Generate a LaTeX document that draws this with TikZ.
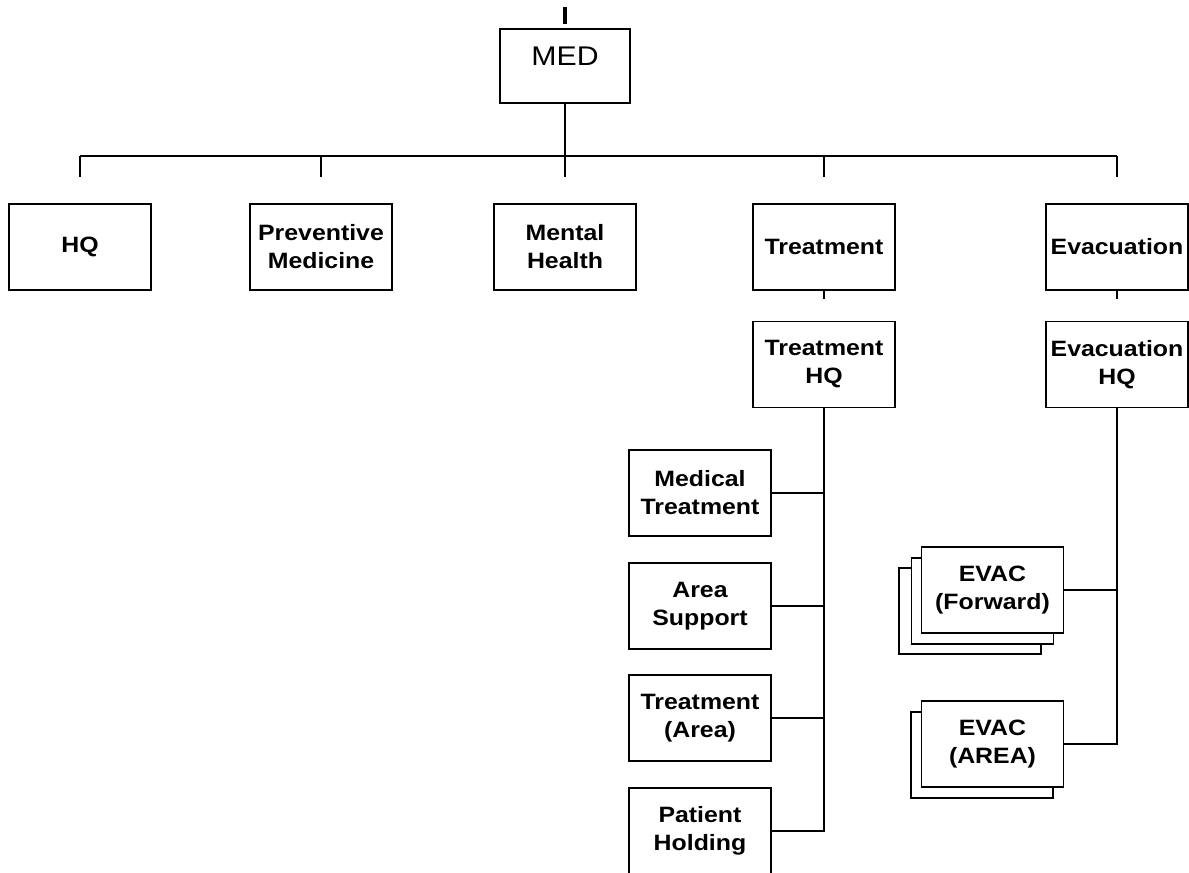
\documentclass[tikz,border=0pt]{standalone}
\usepackage{fontspec}
\setmainfont{Liberation Sans}[FakeStretch=1.12]
\usetikzlibrary{calc}
\tikzset{
  x=1pt, y=-1pt,
  unit/.style={draw, line width=1.6pt, fill=white, minimum width=142pt,
    minimum height=86pt, inner sep=0pt, align=center,
    font=\bfseries\fontsize{22.2}{28}\selectfont},
  layer/.style={draw, line width=1.6pt, fill=white, minimum width=142pt,
    minimum height=86pt, inner sep=0pt},
  link/.style={line width=1.5pt},
}
\begin{document}
\begin{tikzpicture}
\useasboundingbox (0,0) rectangle (1189,873);
\clip (0,0) rectangle (1189,873);

% top-level command box
\node[draw, line width=1.6pt, minimum width=130pt, inner xsep=0pt, inner ysep=0pt,
      text height=36pt, text depth=38pt, anchor=base,
      font=\fontsize{27}{32}\selectfont] (med) at (565,65) {MED};
\coordinate (feed) at (565,7);
\draw[line width=3.5pt, shorten >=4pt] (feed) -- (med.north);

% first row
\coordinate (bus) at (565,156);
\node[unit] (hq)     at (80,247)   {HQ};
\node[unit] (prev)   at (321,247)  {Preventive\\Medicine};
\node[unit] (mental) at (565,247)  {Mental\\Health};
\node[unit] (treat)  at (824,247)  {Treatment};
\node[unit] (evac)   at (1117,247) {Evacuation};

\draw[link] (med.south) -- (bus);
\draw[link] (hq.north |- bus) -- (evac.north |- bus);
\foreach \n in {hq,prev,mental,treat,evac}
  \draw[link, shorten >=26pt] (\n.north |- bus) -- (\n.north);

% second row
\node[unit] (treathq) at (824,364.5)  {Treatment\\HQ};
\node[unit] (evachq)  at (1117,364.5) {Evacuation\\HQ};
\draw[link, shorten >=22pt] (treat.south) -- (treathq.north);
\draw[link, shorten >=22pt] (evac.south) -- (evachq.north);

% treatment sections
\node[unit] (medtr)  at (700,493) {Medical\\Treatment};
\node[unit] (area)   at (700,606) {Area\\Support};
\node[unit] (trarea) at (700,718) {Treatment\\(Area)};
\node[unit] (pat)    at (700,831) {Patient\\Holding};
\draw[link] (treathq.south) |- (pat.east);
\foreach \n in {medtr,area,trarea}
  \draw[link] (\n.east) -- (\n.east -| treathq.south);

% evacuation sections (stacked for multiple teams)
\node[layer] (fwd3) at (970,611) {};
\node[layer] (fwd2) at (982.5,601) {};
\node[unit]  (evacfwd) at (992.5,590) {EVAC\\(Forward)};
\node[layer] (area2) at (982,755) {};
\node[unit]  (evacarea) at (992.5,744) {EVAC\\(AREA)};
\draw[link] (evachq.south) |- (evacarea.east);
\draw[link] (evacfwd.east) -- (evacfwd.east -| evachq.south);
\end{tikzpicture}
\end{document}
